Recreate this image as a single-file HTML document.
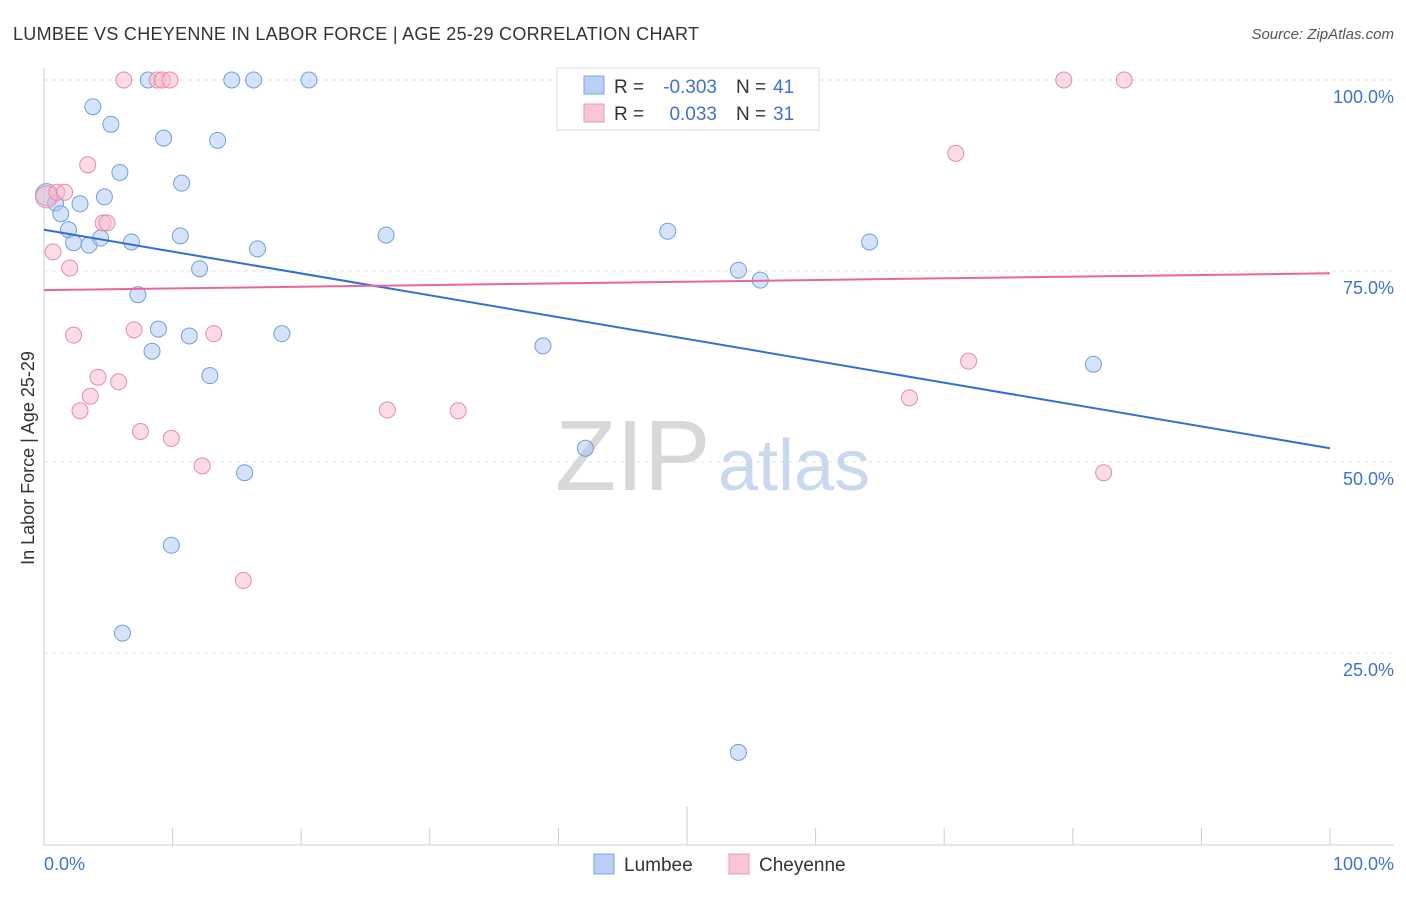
<!DOCTYPE html>
<html><head><meta charset="utf-8"><style>
body{margin:0;background:#fff;font-family:"Liberation Sans",sans-serif;}
svg text{font-family:"Liberation Sans",sans-serif;}
</style></head><body>
<svg id="chart" width="1406" height="892" xmlns="http://www.w3.org/2000/svg">
<text x="13" y="40" font-size="18" fill="#333" textLength="686">LUMBEE VS CHEYENNE IN LABOR FORCE | AGE 25-29 CORRELATION CHART</text>
<text x="1394" y="39" font-size="15" fill="#555" font-style="italic" text-anchor="end">Source: ZipAtlas.com</text>
<g id="grid"></g>
<text x="555" y="490" font-size="100" fill="#d8d8d8" font-family="Liberation Serif">ZIP</text>
<text x="718" y="490" font-size="72" fill="#c8d8ee">atlas</text>
<g id="marks"></g>
<text x="34" y="458" font-size="18" fill="#333" transform="rotate(-90 34 458)" text-anchor="middle">In Labor Force | Age 25-29</text>
<text x="44" y="870" font-size="18" fill="#3f72d0">0.0%</text>
<text x="1394" y="870" font-size="18" fill="#3f72d0" text-anchor="end">100.0%</text>
<g>
<rect x="557" y="68" width="262" height="62" fill="#fff" stroke="#ddd"/>
<rect x="584" y="76" width="20" height="18" fill="#b8d0f5" stroke="#7da6e0"/>
<rect x="584" y="104" width="20" height="18" fill="#f9c6d5" stroke="#eb9ab3"/>
<text x="614" y="93" font-size="19" fill="#333">R =</text>
<text x="717" y="93" font-size="19" fill="#3f72d0" text-anchor="end">-0.303</text>
<text x="736" y="93" font-size="19" fill="#333">N =</text>
<text x="773" y="93" font-size="19" fill="#3f72d0">41</text>
<text x="614" y="120" font-size="19" fill="#333">R =</text>
<text x="717" y="120" font-size="19" fill="#3f72d0" text-anchor="end">0.033</text>
<text x="736" y="120" font-size="19" fill="#333">N =</text>
<text x="773" y="120" font-size="19" fill="#3f72d0">31</text>
</g>
<g><rect x="594" y="854" width="20" height="20" fill="#b8d0f5" stroke="#7da6e0"/><text x="624" y="871" font-size="19" fill="#333">Lumbee</text></g>
<g><rect x="729" y="854" width="20" height="20" fill="#f9c6d5" stroke="#eb9ab3"/><text x="759" y="871" font-size="19" fill="#333">Cheyenne</text></g>
</svg>
<script>
const lumbeeX=[0.2,0.9,1.3,1.9,2.3,3.5,4.4,2.8,3.8,5.2,5.9,4.7,6.8,8.1,9.3,10.7,10.6,7.3,8.9,8.4,11.3,12.1,12.9,13.5,14.6,16.3,20.6,16.6,18.5,15.6,9.9,6.1,26.6,38.8,42.1,48.5,54.0,55.7,64.2,81.6,54.0];
const lumbeeY=[85.0,83.9,82.5,80.4,78.7,78.4,79.3,83.8,96.5,94.2,87.9,84.7,78.8,100,92.4,86.5,79.6,71.9,67.4,64.5,66.5,75.3,61.3,92.1,100,100,100,77.9,66.8,48.6,39.1,27.6,79.7,65.2,51.8,80.2,75.1,73.8,78.8,62.8,12.0];
const cheyX=[0.2,1.0,1.6,0.7,2.0,3.4,4.6,4.9,6.2,8.8,9.2,9.8,2.3,4.2,5.8,3.6,2.8,7.0,7.5,9.9,12.3,13.2,15.5,26.7,32.2,67.3,70.9,71.9,79.3,84.0,82.4];
const cheyY=[84.7,85.3,85.3,77.5,75.4,88.9,81.3,81.3,100,100,100,100,66.6,61.1,60.5,58.6,56.7,67.3,54.0,53.1,49.5,66.8,34.5,56.8,56.7,58.4,90.4,63.2,100,100,48.6];
const trendX=[0,100];
const lumbeeTrend=[80.4,51.8];
const cheyTrend=[72.5,74.7];
const yTicks=[100,75,50,25];
const yTickLabels=["100.0%","75.0%","50.0%","25.0%"];
const xTicks=[0,10,20,30,40,50,60,70,80,90,100];
const NS="http://www.w3.org/2000/svg";
const sx=v=>44+v*12.86, sy=v=>844-v*7.64;
function mk(tag,attrs,parent){const e=document.createElementNS(NS,tag);for(const k in attrs)e.setAttribute(k,attrs[k]);parent.appendChild(e);return e;}
const grid=document.getElementById('grid'), marks=document.getElementById('marks');
yTicks.forEach((t,i)=>{
 const l=mk('line',{x1:44,x2:1394,y1:sy(t),y2:sy(t),stroke:'#e2e2e2','stroke-dasharray':'4,4'},grid);
 
 
 const tx=mk('text',{x:1394,y:sy(t)+23,'font-size':18,fill:'#3f72d0','text-anchor':'end'},grid);
 tx.textContent=yTickLabels[i];
 
 
});
const ya=mk('line',{x1:44,x2:44,y1:68,y2:845,stroke:'#ccc'},grid);


const xa=mk('line',{x1:44,x2:1394,y1:845,y2:845,stroke:'#ccc'},grid);


xTicks.forEach(t=>{
 const l=mk('line',{x1:sx(t),x2:sx(t),y1:t==50?806:828,y2:845,stroke:'#ccc'},grid);
 
 
});
function pts(X,Y,fill,stroke,name){
 X.forEach((x,i)=>{
  const c=mk('circle',{cx:sx(x),cy:sy(Y[i]),r:i==0?11:8,fill:fill,'fill-opacity':0.5,stroke:stroke,'stroke-width':1},marks);
  
  
 });
}
pts(lumbeeX,lumbeeY,'#a9c8f2','#6f9fe0','lumbee-point');
pts(cheyX,cheyY,'#f7b9cc','#e88aa8','cheyenne-point');
const lb=mk('line',{x1:sx(trendX[0]),x2:sx(trendX[1]),y1:sy(lumbeeTrend[0]),y2:sy(lumbeeTrend[1]),stroke:'#2f6fd6','stroke-width':2},marks);


const lc=mk('line',{x1:sx(trendX[0]),x2:sx(trendX[1]),y1:sy(cheyTrend[0]),y2:sy(cheyTrend[1]),stroke:'#e8679a','stroke-width':2},marks);


</script>
</body></html>
